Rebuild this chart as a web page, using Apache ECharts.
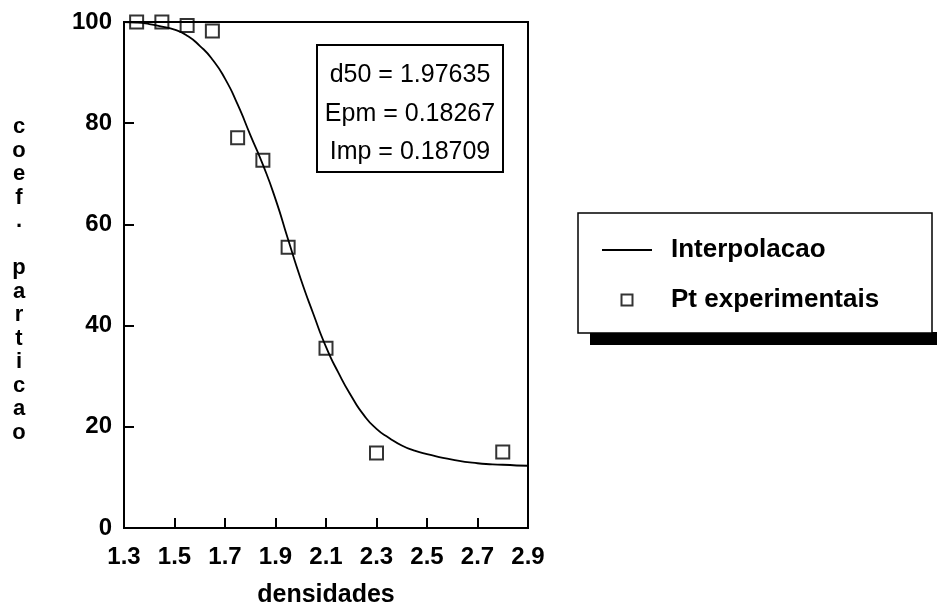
<!DOCTYPE html>
<html>
<head>
<meta charset="utf-8">
<script src="https://cdn.jsdelivr.net/npm/echarts@6/dist/echarts.min.js"></script>
<style>
html,body{margin:0;padding:0;background:#fff;}
#chart{width:937px;height:605px;}
</style>
</head>
<body>
<div id="chart"></div>
<script>
// Experimental points (densidade, coef. particao)
const pointX = [1.35, 1.45, 1.55, 1.65, 1.75, 1.85, 1.95, 2.10, 2.30, 2.80];
const pointY = [100.0, 100.0, 99.3, 98.2, 77.1, 72.7, 55.5, 35.5, 14.8, 15.0];

// Interpolation curve
const curveX = [1.30, 1.35, 1.40, 1.45, 1.50, 1.55, 1.60, 1.65, 1.70, 1.75, 1.80, 1.85, 1.90, 1.95, 2.00, 2.05, 2.10, 2.15, 2.20, 2.25, 2.30, 2.35, 2.40, 2.45, 2.50, 2.60, 2.70, 2.80, 2.90];
const curveY = [100.0, 99.9, 99.6, 99.1, 98.5, 97.3, 95.3, 92.6, 88.8, 83.7, 77.7, 71.8, 65.0, 57.0, 49.2, 42.3, 35.8, 30.6, 26.1, 22.3, 19.6, 17.8, 16.3, 15.3, 14.6, 13.5, 12.8, 12.5, 12.3];

const xTickLabels = ['1.3', '1.5', '1.7', '1.9', '2.1', '2.3', '2.5', '2.7', '2.9'];
const yTickLabels = ['0', '20', '40', '60', '80', '100'];

const statLines = ['d50 = 1.97635', 'Epm = 0.18267', 'Imp = 0.18709'];
const seriesNames = ['Interpolacao', 'Pt experimentais'];
const xTitle = 'densidades';
const yTitleLetters = ['c', 'o', 'e', 'f', '.', '', 'p', 'a', 'r', 't', 'i', 'c', 'a', 'o'];

const boldFont = '"Liberation Sans", Arial, sans-serif';

const chart = echarts.init(document.getElementById('chart'), null, {renderer: 'canvas'});

const option = {
  backgroundColor: '#fff',
  animation: false,
  grid: {
    left: 124, right: 409, top: 22, bottom: 77,
    containLabel: false, outerBoundsMode: 'none',
    show: true, borderColor: '#000', borderWidth: 2, backgroundColor: 'transparent'
  },
  xAxis: {
    type: 'value', min: 1.3, max: 2.9, interval: 0.2,
    name: xTitle, nameLocation: 'middle', nameGap: 55,
    nameTextStyle: {fontFamily: boldFont, fontWeight: 'bold', fontSize: 25, color: '#000'},
    axisLine: {show: true, lineStyle: {color: '#000', width: 2}},
    axisTick: {show: true, inside: true, length: 10, lineStyle: {color: '#000', width: 2}},
    splitLine: {show: false},
    axisLabel: {
      margin: 17, color: '#000', fontFamily: boldFont, fontWeight: 'bold', fontSize: 24,
      formatter: function (v) {
        const s = v.toFixed(1);
        return xTickLabels.indexOf(s) >= 0 ? s : '';
      }
    }
  },
  yAxis: {
    type: 'value', min: 0, max: 100, interval: 20,
    axisLine: {show: true, lineStyle: {color: '#000', width: 2}},
    axisTick: {show: true, inside: true, length: 10, lineStyle: {color: '#000', width: 2}},
    splitLine: {show: false},
    axisLabel: {
      margin: 12, color: '#000', fontFamily: boldFont, fontWeight: 'bold', fontSize: 24,
      formatter: function (v) {
        const s = String(Math.round(v));
        return yTickLabels.indexOf(s) >= 0 ? s : '';
      }
    }
  },
  legend: {
    orient: 'vertical', left: 578, top: 213,
    padding: [24, 48, 20, 24],
    itemWidth: 50, itemHeight: 11, itemGap: 24,
    symbolKeepAspect: true,
    backgroundColor: 'transparent', borderWidth: 0,
    textStyle: {fontFamily: boldFont, fontWeight: 'bold', fontSize: 26, color: '#000', padding: [0, 0, 0, 14]},
    data: [
      {name: seriesNames[0], icon: 'path://M0,0L50,0L50,2L0,2Z', itemStyle: {color: '#000'}},
      {name: seriesNames[1], icon: 'path://M0,0L10,0L10,10L0,10Z'}
    ],
    z: 20
  },
  graphic: [
    // legend frame with its drop shadow (shadow visible below the frame)
    {
      type: 'rect', shape: {x: 590, y: 332, width: 347, height: 13},
      style: {fill: '#000'}, z: 1, silent: true
    },
    {
      type: 'rect', shape: {x: 578, y: 213, width: 354, height: 120},
      style: {fill: '#fff', stroke: '#000', lineWidth: 1.5}, z: 2, silent: true
    },
    // statistics box
    {
      type: 'rect', shape: {x: 317, y: 45, width: 186, height: 127},
      style: {fill: 'transparent', stroke: '#000', lineWidth: 2}, z: 10
    },
    {
      type: 'text', x: 410, y: 56, z: 11,
      style: {
        text: statLines.join('\n'), fill: '#000', align: 'center', verticalAlign: 'top',
        font: '25px "Liberation Sans", Arial, sans-serif', lineHeight: 38.5
      }
    },
    // stacked y-axis title
    {
      type: 'text', x: 19, y: 115.3, z: 11,
      style: {
        text: yTitleLetters.join('\n'), fill: '#000', align: 'center', verticalAlign: 'top',
        font: 'bold 22px "Liberation Sans", Arial, sans-serif', lineHeight: 23.5
      }
    }
  ],
  series: [
    {
      name: seriesNames[0], type: 'line', symbol: 'none', smooth: 0.6,
      lineStyle: {color: '#000', width: 1.8},
      itemStyle: {color: '#000'},
      data: curveX.map((x, i) => [x, curveY[i]]),
      z: 3
    },
    {
      name: seriesNames[1], type: 'scatter', symbol: 'rect', symbolSize: 13,
      itemStyle: {color: 'transparent', borderColor: '#000', borderWidth: 2},
      data: pointX.map((x, i) => [x, pointY[i]]),
      z: 4
    }
  ]
};

chart.setOption(option);
</script>
</body>
</html>
